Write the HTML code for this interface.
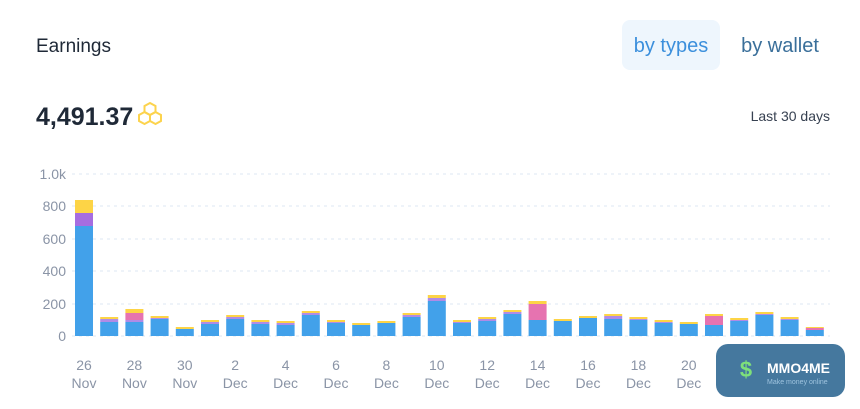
<!DOCTYPE html>
<html><head><meta charset="utf-8"><style>
body{margin:0;width:860px;height:404px;background:#fff;overflow:hidden;font-family:"Liberation Sans",sans-serif;}
</style></head><body>
<svg width="860" height="404" xmlns="http://www.w3.org/2000/svg" font-family="Liberation Sans, sans-serif">
<text x="36" y="52" font-size="19" fill="#1f2937">Earnings</text>
<rect x="622" y="20" width="98" height="50" rx="8" fill="#eef6fd"/>
<text x="671" y="52" font-size="20" fill="#3b8fdc" text-anchor="middle">by types</text>
<text x="780" y="52" font-size="20" fill="#3a6f9a" text-anchor="middle">by wallet</text>
<text x="36" y="125" font-size="25" font-weight="bold" fill="#1f2937">4,491.37</text>
<g fill="none" stroke="#fcd34d" stroke-width="2">
<polygon points="150,103 155.5,106 155.5,112 150,115 144.5,112 144.5,106"/>
<polygon points="144.5,112 150,115 150,121 144.5,124 139,121 139,115"/>
<polygon points="155.5,112 161,115 161,121 155.5,124 150,121 150,115"/>
</g>
<text x="830" y="121" font-size="14" fill="#374151" text-anchor="end">Last 30 days</text>
<g stroke="#dde7f3" stroke-dasharray="3,4" stroke-width="1">
<line x1="72" x2="830" y1="174" y2="174"/><line x1="72" x2="830" y1="206" y2="206"/>
<line x1="72" x2="830" y1="239" y2="239"/><line x1="72" x2="830" y1="271" y2="271"/>
<line x1="72" x2="830" y1="304" y2="304"/><line x1="72" x2="830" y1="336" y2="336"/>
</g>
<g font-size="14" fill="#8a94a6" text-anchor="end">
<text x="66" y="179">1.0k</text><text x="66" y="211">800</text><text x="66" y="244">600</text>
<text x="66" y="276">400</text><text x="66" y="309">200</text><text x="66" y="341">0</text>
</g>
<g>
<g transform="translate(75,0)"><rect y="226" width="18" height="110" fill="#42a1ea"/><rect y="213" width="18" height="13" fill="#a66de0"/><rect y="200" width="18" height="13" fill="#fdd446"/></g>
<g transform="translate(100.2,0)"><rect y="322" width="18" height="14" fill="#42a1ea"/><rect y="319" width="18" height="3" fill="#b08be6"/><rect y="317" width="18" height="2" fill="#fdd446"/></g>
<g transform="translate(125.4,0)"><rect y="322" width="18" height="14" fill="#42a1ea"/><rect y="320" width="18" height="2" fill="#b08be6"/><rect y="313" width="18" height="7" fill="#e673b0"/><rect y="309" width="18" height="4" fill="#fdd446"/></g>
<g transform="translate(150.6,0)"><rect y="319" width="18" height="17" fill="#42a1ea"/><rect y="318" width="18" height="1" fill="#b08be6"/><rect y="316" width="18" height="2" fill="#fdd446"/></g>
<g transform="translate(175.8,0)"><rect y="329" width="18" height="7" fill="#42a1ea"/><rect y="327" width="18" height="2" fill="#fdd446"/></g>
<g transform="translate(201,0)"><rect y="324" width="18" height="12" fill="#42a1ea"/><rect y="322" width="18" height="2" fill="#b08be6"/><rect y="320" width="18" height="2" fill="#fdd446"/></g>
<g transform="translate(226.2,0)"><rect y="319" width="18" height="17" fill="#42a1ea"/><rect y="317" width="18" height="2" fill="#b08be6"/><rect y="315" width="18" height="2" fill="#fdd446"/></g>
<g transform="translate(251.4,0)"><rect y="324" width="18" height="12" fill="#42a1ea"/><rect y="322" width="18" height="2" fill="#b08be6"/><rect y="320" width="18" height="2" fill="#fdd446"/></g>
<g transform="translate(276.6,0)"><rect y="325" width="18" height="11" fill="#42a1ea"/><rect y="323" width="18" height="2" fill="#b08be6"/><rect y="321" width="18" height="2" fill="#fdd446"/></g>
<g transform="translate(301.8,0)"><rect y="315" width="18" height="21" fill="#42a1ea"/><rect y="313" width="18" height="2" fill="#b08be6"/><rect y="311" width="18" height="2" fill="#fdd446"/></g>
<g transform="translate(327,0)"><rect y="323" width="18" height="13" fill="#42a1ea"/><rect y="322" width="18" height="1" fill="#b08be6"/><rect y="320" width="18" height="2" fill="#fdd446"/></g>
<g transform="translate(352.2,0)"><rect y="325" width="18" height="11" fill="#42a1ea"/><rect y="323" width="18" height="2" fill="#fdd446"/></g>
<g transform="translate(377.4,0)"><rect y="323" width="18" height="13" fill="#42a1ea"/><rect y="321" width="18" height="2" fill="#fdd446"/></g>
<g transform="translate(402.6,0)"><rect y="317" width="18" height="19" fill="#42a1ea"/><rect y="315" width="18" height="2" fill="#b08be6"/><rect y="313" width="18" height="2" fill="#fdd446"/></g>
<g transform="translate(427.8,0)"><rect y="301" width="18" height="35" fill="#42a1ea"/><rect y="298" width="18" height="3" fill="#b08be6"/><rect y="295" width="18" height="3" fill="#fdd446"/></g>
<g transform="translate(453,0)"><rect y="323" width="18" height="13" fill="#42a1ea"/><rect y="322" width="18" height="1" fill="#b08be6"/><rect y="320" width="18" height="2" fill="#fdd446"/></g>
<g transform="translate(478.2,0)"><rect y="321" width="18" height="15" fill="#42a1ea"/><rect y="319" width="18" height="2" fill="#b08be6"/><rect y="317" width="18" height="2" fill="#fdd446"/></g>
<g transform="translate(503.4,0)"><rect y="314" width="18" height="22" fill="#42a1ea"/><rect y="312" width="18" height="2" fill="#b08be6"/><rect y="310" width="18" height="2" fill="#fdd446"/></g>
<g transform="translate(528.6,0)"><rect y="320" width="18" height="16" fill="#42a1ea"/><rect y="304" width="18" height="16" fill="#e673b0"/><rect y="301" width="18" height="3" fill="#fdd446"/></g>
<g transform="translate(553.8,0)"><rect y="321" width="18" height="15" fill="#42a1ea"/><rect y="319" width="18" height="2" fill="#fdd446"/></g>
<g transform="translate(579,0)"><rect y="318" width="18" height="18" fill="#42a1ea"/><rect y="316" width="18" height="2" fill="#fdd446"/></g>
<g transform="translate(604.2,0)"><rect y="319" width="18" height="17" fill="#42a1ea"/><rect y="316" width="18" height="3" fill="#b08be6"/><rect y="314" width="18" height="2" fill="#fdd446"/></g>
<g transform="translate(629.4,0)"><rect y="320" width="18" height="16" fill="#42a1ea"/><rect y="319" width="18" height="1" fill="#b08be6"/><rect y="317" width="18" height="2" fill="#fdd446"/></g>
<g transform="translate(654.6,0)"><rect y="323" width="18" height="13" fill="#42a1ea"/><rect y="322" width="18" height="1" fill="#b08be6"/><rect y="320" width="18" height="2" fill="#fdd446"/></g>
<g transform="translate(679.8,0)"><rect y="324" width="18" height="12" fill="#42a1ea"/><rect y="322" width="18" height="2" fill="#fdd446"/></g>
<g transform="translate(705,0)"><rect y="325" width="18" height="11" fill="#42a1ea"/><rect y="316" width="18" height="9" fill="#e673b0"/><rect y="314" width="18" height="2" fill="#fdd446"/></g>
<g transform="translate(730.2,0)"><rect y="321" width="18" height="15" fill="#42a1ea"/><rect y="320" width="18" height="1" fill="#b08be6"/><rect y="318" width="18" height="2" fill="#fdd446"/></g>
<g transform="translate(755.4,0)"><rect y="315" width="18" height="21" fill="#42a1ea"/><rect y="314" width="18" height="1" fill="#b08be6"/><rect y="312" width="18" height="2" fill="#fdd446"/></g>
<g transform="translate(780.6,0)"><rect y="320" width="18" height="16" fill="#42a1ea"/><rect y="319" width="18" height="1" fill="#b08be6"/><rect y="317" width="18" height="2" fill="#fdd446"/></g>
<g transform="translate(805.8,0)"><rect y="330" width="18" height="6" fill="#42a1ea"/><rect y="328" width="18" height="2" fill="#e673b0"/><rect y="327" width="18" height="1" fill="#fdd446"/></g>
</g>
<g font-size="14" fill="#8a94a6" text-anchor="middle">
<text x="84" y="370">26</text><text x="84" y="388">Nov</text>
<text x="134.4" y="370">28</text><text x="134.4" y="388">Nov</text>
<text x="184.8" y="370">30</text><text x="184.8" y="388">Nov</text>
<text x="235.2" y="370">2</text><text x="235.2" y="388">Dec</text>
<text x="285.6" y="370">4</text><text x="285.6" y="388">Dec</text>
<text x="336" y="370">6</text><text x="336" y="388">Dec</text>
<text x="386.4" y="370">8</text><text x="386.4" y="388">Dec</text>
<text x="436.8" y="370">10</text><text x="436.8" y="388">Dec</text>
<text x="487.2" y="370">12</text><text x="487.2" y="388">Dec</text>
<text x="537.6" y="370">14</text><text x="537.6" y="388">Dec</text>
<text x="588" y="370">16</text><text x="588" y="388">Dec</text>
<text x="638.4" y="370">18</text><text x="638.4" y="388">Dec</text>
<text x="688.8" y="370">20</text><text x="688.8" y="388">Dec</text>
<text x="739.2" y="370">22</text><text x="739.2" y="388">Dec</text>
<text x="789.6" y="370">24</text><text x="789.6" y="388">Dec</text>
</g>
<rect x="716" y="344" width="129" height="53" rx="12" fill="#45789e"/>
<text x="746" y="377" font-size="22" font-weight="bold" fill="#7ee07a" text-anchor="middle">$</text>
<text x="767" y="373" font-size="14" font-weight="bold" fill="#fff">MMO4ME</text>
<text x="767" y="384" font-size="7" fill="#9ec3de">Make money online</text>
</svg>
</body></html>
